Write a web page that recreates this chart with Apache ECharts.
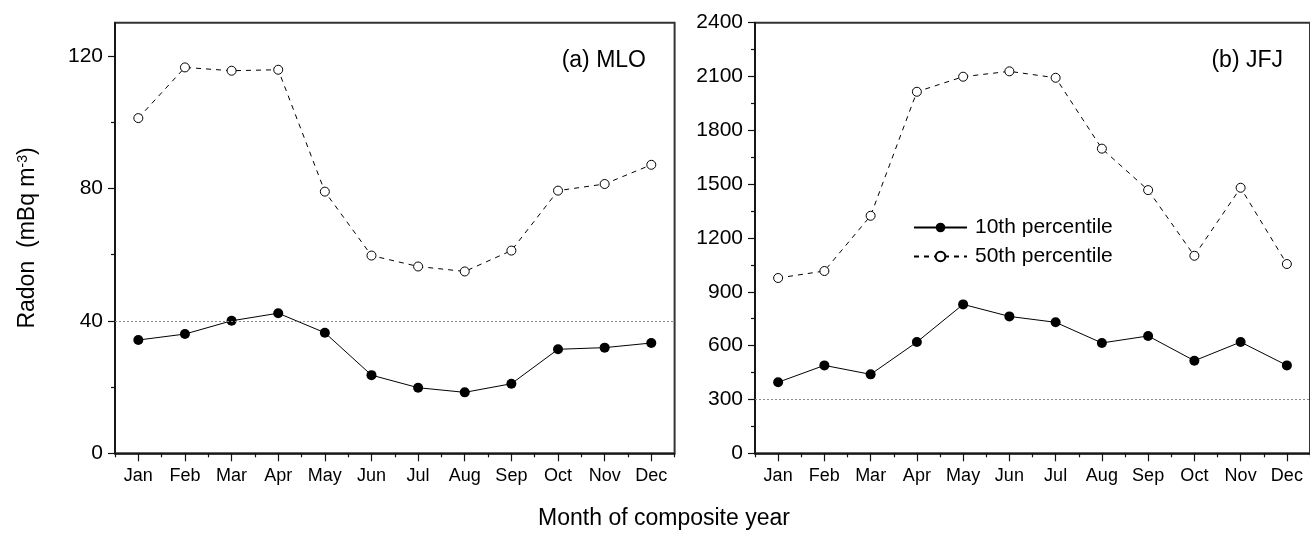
<!DOCTYPE html>
<html>
<head>
<meta charset="utf-8">
<script src="https://cdn.jsdelivr.net/npm/echarts@6/dist/echarts.min.js"></script>
<style>
html,body{margin:0;padding:0;background:#fff;}
#chart{width:1310px;height:534px;}
</style>
</head>
<body>
<div id="chart"></div>
<script>
// ---- data ----
const months = ['Jan','Feb','Mar','Apr','May','Jun','Jul','Aug','Sep','Oct','Nov','Dec'];
const mloP10 = [34.2, 36.0, 40.0, 42.3, 36.4, 23.6, 19.8, 18.4, 21.0, 31.4, 31.9, 33.3];
const mloP50 = [101.2, 116.5, 115.5, 115.8, 79.0, 59.7, 56.4, 54.9, 61.2, 79.3, 81.3, 87.1];
const jfjP10 = [396, 490, 440, 620, 830, 763, 730, 615, 654, 516, 620, 490];
const jfjP50 = [977, 1016, 1324, 2015, 2099, 2129, 2093, 1698, 1467, 1101, 1480, 1055];
const mloTicks = [0, 40, 80, 120];
const mloMinor = [20, 60, 100];
const mloMax = 130;
const jfjTicks = [0, 300, 600, 900, 1200, 1500, 1800, 2100, 2400];
const jfjMinor = [150, 450, 750, 1050, 1350, 1650, 1950, 2250];
const jfjMax = 2400;
const mloRef = 40;
const jfjRef = 300;
const seriesNames = ['10th percentile', '50th percentile'];

const FONT = "'Liberation Sans', Arial, Helvetica, sans-serif";
const AX = '#111';

function gridDef(left, frame) {
  return {
    left: left, top: 22.7, width: 559.6, height: 430.6, containLabel: false,
    show: frame, borderColor: '#333', borderWidth: frame ? 2 : 0, backgroundColor: 'transparent'
  };
}
function xMain(g) {
  return {
    type: 'category', gridIndex: g, data: months, boundaryGap: true, position: 'bottom',
    axisLine: { show: true, lineStyle: { color: AX, width: 1.6 } },
    axisTick: { show: true, alignWithLabel: true, length: 8, lineStyle: { color: AX, width: 1.2 } },
    axisLabel: { show: true, color: '#000', fontFamily: FONT, fontSize: 18, margin: 14, interval: 0 },
    splitLine: { show: false }
  };
}
function xMinor(g) {
  return {
    type: 'category', gridIndex: g, data: months, boundaryGap: true, position: 'bottom',
    axisLine: { show: false },
    axisTick: { show: true, alignWithLabel: false, length: 4, interval: 0, lineStyle: { color: AX, width: 1.2 } },
    axisLabel: { show: false }, splitLine: { show: false }
  };
}
function yMain(g, max, ticks, name) {
  const ax = {
    type: 'value', gridIndex: g, min: 0, max: max, position: 'left',
    axisLine: { show: true, lineStyle: { color: AX, width: 1.6 } },
    axisTick: { show: true, length: 7, customValues: ticks, lineStyle: { color: AX, width: 1.2 } },
    axisLabel: {
      show: true, customValues: ticks, color: '#000', fontFamily: FONT, fontSize: 21, margin: 12,
      formatter: function (v) { return String(v); }
    },
    splitLine: { show: false }
  };
  if (name) {
    ax.name = name;
    ax.nameLocation = 'middle';
    ax.nameGap = 75;
    ax.nameTextStyle = {
      color: '#000', fontFamily: FONT, fontSize: 23,
      rich: { sup: { fontSize: 14, fontFamily: FONT, color: '#000', verticalAlign: 'top', padding: [0, 0, 10, 0] } }
    };
  }
  return ax;
}
function yMinor(g, max, minor) {
  return {
    type: 'value', gridIndex: g, min: 0, max: max, position: 'left',
    axisLine: { show: false },
    axisTick: { show: true, length: 4, customValues: minor, lineStyle: { color: AX, width: 1.2 } },
    axisLabel: { show: false }, splitLine: { show: false }
  };
}
function refLine(v) {
  return {
    silent: true, symbol: ['none', 'none'], label: { show: false },
    lineStyle: { color: '#8a8a8a', type: [2, 2], width: 1 },
    data: [{ yAxis: v }]
  };
}
function p10(name, xi, yi, data, ref) {
  return {
    name: name, type: 'line', xAxisIndex: xi, yAxisIndex: yi, data: data,
    symbol: 'circle', symbolSize: 10,
    itemStyle: { color: '#000', borderColor: '#000', borderWidth: 0 },
    lineStyle: { color: '#000', width: 1 },
    markLine: refLine(ref), z: 3
  };
}
function p50(name, xi, yi, data) {
  return {
    name: name, type: 'line', xAxisIndex: xi, yAxisIndex: yi, data: data,
    symbol: 'circle', symbolSize: 9,
    itemStyle: { color: '#fff', borderColor: '#000', borderWidth: 1 },
    lineStyle: { color: '#000', width: 1, type: [5, 5] }, z: 3
  };
}

const chart = echarts.init(document.getElementById('chart'), null, { renderer: 'canvas' });
chart.setOption({
  animation: false,
  backgroundColor: '#fff',
  textStyle: { fontFamily: FONT },
  grid: [gridDef(115, true), gridDef(755, true), gridDef(115, false), gridDef(755, false)],
  xAxis: [xMain(0), xMain(1), xMinor(2), xMinor(3)],
  yAxis: [
    yMain(0, mloMax, mloTicks, 'Radon  (mBq m{sup|-3})'),
    yMain(1, jfjMax, jfjTicks, null),
    yMinor(2, mloMax, mloMinor),
    yMinor(3, jfjMax, jfjMinor)
  ],
  title: [
    { text: '(a) MLO', right: 664, top: 49, padding: 0, textStyle: { fontFamily: FONT, fontSize: 23, fontWeight: 'normal', color: '#000' } },
    { text: '(b) JFJ', right: 27, top: 49, padding: 0, textStyle: { fontFamily: FONT, fontSize: 23, fontWeight: 'normal', color: '#000' } },
    { text: 'Month of composite year', left: 664, textAlign: 'center', top: 507, padding: 0, textStyle: { fontFamily: FONT, fontSize: 23, fontWeight: 'normal', color: '#000' } }
  ],
  legend: {
    data: seriesNames, orient: 'vertical', left: 913, top: 217, padding: 0,
    itemWidth: 53, itemHeight: 12, itemGap: 8, selectedMode: false,
    textStyle: { fontFamily: FONT, fontSize: 21, color: '#000', padding: [0, 0, 0, 3] }
  },
  series: [
    p10(seriesNames[0], 0, 0, mloP10, mloRef),
    p50(seriesNames[1], 0, 0, mloP50),
    p10(seriesNames[0], 1, 1, jfjP10, jfjRef),
    p50(seriesNames[1], 1, 1, jfjP50)
  ]
});
</script>
</body>
</html>
